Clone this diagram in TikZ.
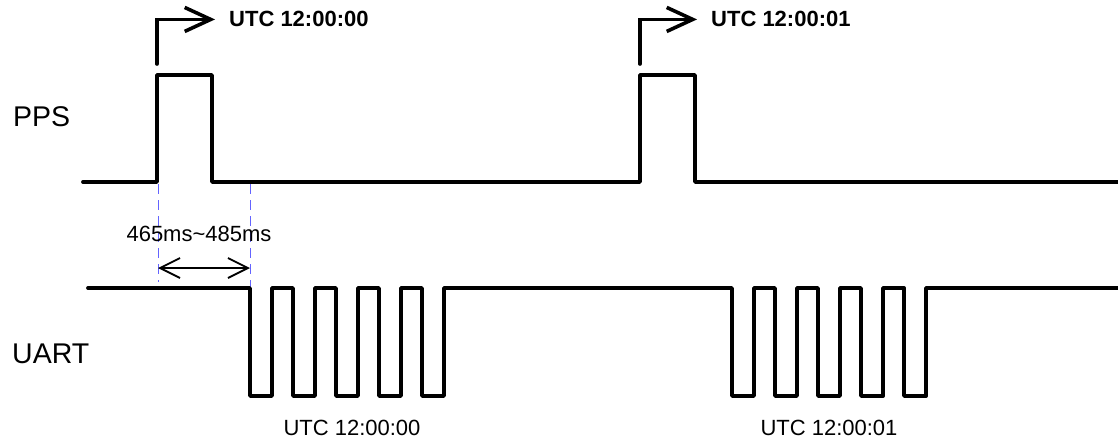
\documentclass[tikz,border=0pt]{standalone}
\usepackage{fontspec}
\setmainfont{Liberation Sans}
\usepackage{tikz}
\usetikzlibrary{arrows.meta}
\definecolor{guideblue}{RGB}{100,100,255}

\begin{document}
\begin{tikzpicture}[
            x=1pt, y=-1pt,
            signal/.style={line width=3.8pt, line join=round, line cap=round},
            marker/.style={line width=3.6pt, line cap=round, -{Straight Barb[length=26pt, width=24pt]}},
            dim/.style={line width=1.8pt, {Straight Barb[length=20pt, width=20pt]}-{Straight Barb[length=20pt, width=20pt]}},
            guide/.style={draw=guideblue, line width=1pt, dash pattern=on 10pt off 6pt},
            every node/.style={inner sep=0pt, font=\fontsize{22}{24}\selectfont},
            siglabel/.style={font=\fontsize{28.5}{30}\selectfont, anchor=base west},
            stamp/.style={font=\bfseries\fontsize{22}{24}\selectfont, anchor=base west}
        ]
            \useasboundingbox (0,0) rectangle (1118,441);

            % Подписи сигналов
            \node[siglabel] (pps) at (13,126) {PPS};
            \node[siglabel] (uart) at (12,363) {UART};

            % Вспомогательные линии
            \draw[guide] (158,184) -- (158,282);
            \draw[guide] (250,184) -- (250,288);

            % Сигнал PPS
            \draw[signal] (83,182) foreach \s in {157,640} { -- (\s,182) -- ++(0,-107) -- ++(55,0) -- ++(0,107) } -- (1118,182);

            % Сигнал UART
            \draw[signal] (88,288) foreach \s in {250,732} { -- (\s,288) foreach \k in {0,...,4} { -- ++(0,108) -- ++(22,0) -- ++(0,-108) -- ++(21,0) } } -- (1118,288);

            % Метки времени
            \node[stamp] (utc0) at (229,27) {UTC 12:00:00};
            \node[stamp] (utc1) at (711,27) {UTC 12:00:01};
            \coordinate (edge0) at (157,64);
            \coordinate (edge1) at (640,64);
            \draw[marker] (edge0) |- ([xshift=-14pt]utc0.west);
            \draw[marker] (edge1) |- ([xshift=-14pt]utc1.west);

            % Интервал
            \coordinate (d0) at (158,268);
            \coordinate (d1) at (250,268);
            \draw[dim] (d0) -- (d1);
            \node[anchor=base] (delay) at (199,241) {465ms\textasciitilde 485ms};

            % Метки байтов
            \node[anchor=base] (bytes0) at (352,435) {UTC 12:00:00};
            \node[anchor=base] (bytes1) at (829,435) {UTC 12:00:01};
        \end{tikzpicture}
\end{document}
